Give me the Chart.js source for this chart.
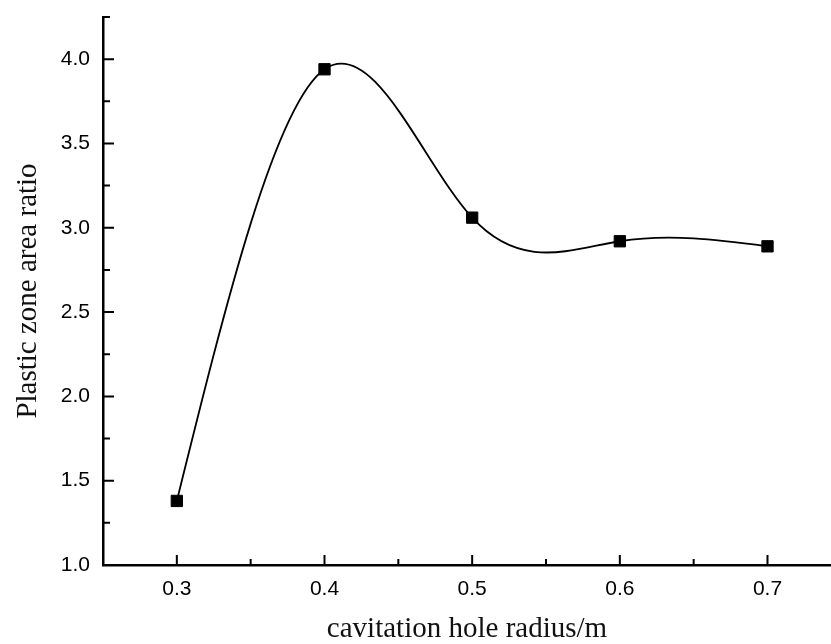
<!DOCTYPE html>
<html>
<head>
<meta charset="utf-8">
<script src="https://cdn.jsdelivr.net/npm/chart.js@4.4.1/dist/chart.umd.min.js"></script>
<style>
html,body{margin:0;padding:0;background:#fff;overflow:hidden}
canvas{display:block}
</style>
</head>
<body>
<canvas id="chart" width="831" height="644"></canvas>
<script>
//==============================
// data
//==============================
const radius=[0.3,0.4,0.5,0.6,0.7];
const areaRatio=[1.38,3.94,3.06,2.92,2.89];

const xMajor=[0.3,0.4,0.5,0.6,0.7];
const yMajor=[1.0,1.5,2.0,2.5,3.0,3.5,4.0];

const isMajor=(list,v)=>list.some(m=>Math.abs(m-v)<1e-6);

//==============================
// inward tick marks (Origin style)
//==============================
const innerTicks={
  id:"innerTicks",
  afterDraw(chart){
    const ctx=chart.ctx,a=chart.chartArea;
    const xs=chart.scales.x,ys=chart.scales.y;
    ctx.save();
    ctx.strokeStyle="#000";
    ctx.lineWidth=2;
    ctx.beginPath();
    xs.ticks.forEach(t=>{
      const px=xs.getPixelForValue(t.value);
      const len=isMajor(xMajor,t.value)?10:6;
      ctx.moveTo(px,a.bottom);
      ctx.lineTo(px,a.bottom-len);
    });
    ys.ticks.forEach(t=>{
      const py=ys.getPixelForValue(t.value);
      const len=isMajor(yMajor,t.value)?11:7;
      ctx.moveTo(a.left,py);
      ctx.lineTo(a.left+len,py);
    });
    ctx.stroke();
    ctx.restore();
  }
};

//==============================
// natural cubic spline tangents for the line's bezier control points
//==============================
const naturalSpline={
  id:"naturalSpline",
  beforeDatasetDraw(chart,args){
    const meta=args.meta;
    const line=meta.dataset;
    if(!line) return;
    line.updateControlPoints(chart.chartArea,"x");
    const pts=meta.data;
    const n=pts.length-1;
    if(n<2) return;
    const x=pts.map(p=>p.x),y=pts.map(p=>p.y);
    const h=[];
    for(let i=0;i<n;i++) h.push(x[i+1]-x[i]);
    // tridiagonal solve for second derivatives (M0=Mn=0)
    const a=[],b=[],c=[],d=[];
    for(let i=1;i<n;i++){
      a.push(h[i-1]);
      b.push(2*(h[i-1]+h[i]));
      c.push(h[i]);
      d.push(6*((y[i+1]-y[i])/h[i]-(y[i]-y[i-1])/h[i-1]));
    }
    const m=a.length;
    for(let i=1;i<m;i++){
      const w=a[i]/b[i-1];
      b[i]-=w*c[i-1];
      d[i]-=w*d[i-1];
    }
    const inner=new Array(m);
    inner[m-1]=d[m-1]/b[m-1];
    for(let i=m-2;i>=0;i--) inner[i]=(d[i]-c[i]*inner[i+1])/b[i];
    const M=[0,...inner,0];
    const slope=[];
    for(let i=0;i<n;i++) slope.push((y[i+1]-y[i])/h[i]-h[i]*(2*M[i]+M[i+1])/6);
    slope.push((y[n]-y[n-1])/h[n-1]+h[n-1]*(M[n-1]+2*M[n])/6);
    for(let i=0;i<=n;i++){
      const p=pts[i];
      if(i<n){
        p.cp2x=x[i]+h[i]/3;
        p.cp2y=y[i]+slope[i]*h[i]/3;
      }
      if(i>0){
        p.cp1x=x[i]-h[i-1]/3;
        p.cp1y=y[i]-slope[i]*h[i-1]/3;
      }
    }
  }
};

const tickFont={family:"'Liberation Sans', Arial, sans-serif",size:21};
const titleFont={family:"'Liberation Serif', 'Times New Roman', serif",size:29,lineHeight:1};

new Chart(document.getElementById("chart"),{
  type:"line",
  data:{
    datasets:[{
      data:radius.map((r,i)=>({x:r,y:areaRatio[i]})),
      borderColor:"#000",
      borderWidth:1.8,
      tension:0.4,
      clip:false,
      pointStyle:"rect",
      pointRadius:8,
      pointBackgroundColor:"#000",
      pointBorderColor:"#000",
      pointBorderWidth:1
    }]
  },
  options:{
    responsive:false,
    animation:false,
    layout:{autoPadding:false,padding:{top:17,right:0,left:0,bottom:0}},
    plugins:{legend:{display:false},tooltip:{enabled:false}},
    scales:{
      x:{
        type:"linear",
        min:0.25,
        max:0.743,
        afterFit(s){s.height=79;s.paddingLeft=0;s.paddingRight=0;},
        grid:{display:true,drawOnChartArea:false,drawTicks:false},
        border:{display:true,color:"#000",width:2.5},
        ticks:{
          stepSize:0.05,
          includeBounds:false,
          autoSkip:false,
          maxRotation:0,
          padding:12,
          color:"#000",
          font:tickFont,
          callback:v=>isMajor(xMajor,v)?v.toFixed(1):""
        },
        title:{display:true,text:"cavitation hole radius/m",color:"#111",font:titleFont,padding:{top:0,bottom:0}}
      },
      y:{
        min:1,
        max:4.25,
        afterFit(s){s.width=103;s.paddingTop=0;s.paddingBottom=0;},
        grid:{display:true,drawOnChartArea:false,drawTicks:false},
        border:{display:true,color:"#000",width:2.5},
        ticks:{
          stepSize:0.25,
          autoSkip:false,
          padding:13,
          color:"#000",
          font:tickFont,
          callback:v=>isMajor(yMajor,v)?v.toFixed(1):""
        },
        title:{display:true,text:"Plastic zone area ratio",color:"#111",font:titleFont,padding:{top:14,bottom:0}}
      }
    }
  },
  plugins:[innerTicks,naturalSpline]
});
</script>
</body>
</html>
